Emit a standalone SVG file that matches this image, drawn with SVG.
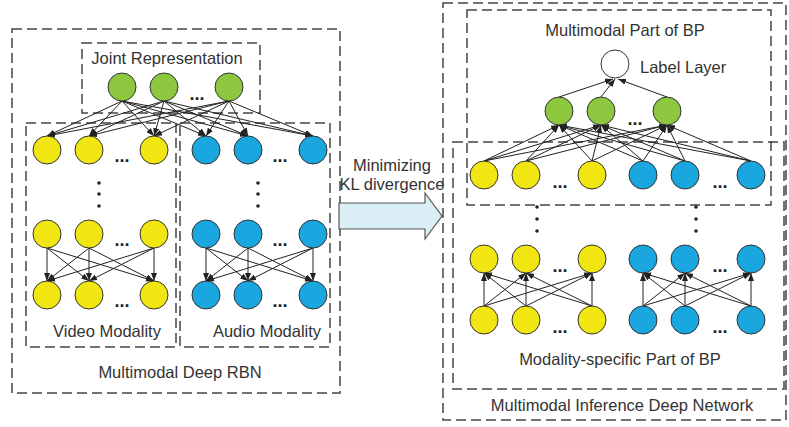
<svg xmlns="http://www.w3.org/2000/svg" width="789" height="427" viewBox="0 0 789 427">
<defs>
<marker id="ah" markerWidth="8" markerHeight="6" refX="8" refY="3" orient="auto" markerUnits="userSpaceOnUse">
<path d="M0,0 L8,3 L0,6 z" fill="#222"/>
</marker>
<style>
.box{fill:none;stroke:#444;stroke-width:1.5;stroke-dasharray:10,5}
.t{font-family:"Liberation Sans",Arial,sans-serif;font-size:16.5px;fill:#333;text-anchor:middle}
.el{font-family:"Liberation Sans",Arial,sans-serif;font-size:18px;font-weight:bold;fill:#222;text-anchor:middle}
.y{fill:#f1e512;stroke:#333;stroke-width:1}
.b{fill:#1aa7e0;stroke:#333;stroke-width:1}
.g{fill:#8dc63f;stroke:#333;stroke-width:1}
.w{fill:#fff;stroke:#333;stroke-width:1}
.c line{stroke:#222;stroke-width:1;marker-end:url(#ah)}
.d{fill:#222}
</style>
</defs>
<rect width="789" height="427" fill="#fff"/>

<!-- Left part boxes -->
<g id="left-outer"><rect class="box" x="12" y="29" width="328" height="364"/><text class="t" x="180" y="378">Multimodal Deep RBN</text></g>
<g id="joint-box"><rect class="box" x="82" y="43" width="178" height="70"/><text class="t" x="167" y="64">Joint Representation</text></g>
<g id="video-box"><rect class="box" x="26" y="123" width="150" height="224"/><text class="t" x="107" y="337">Video Modality</text></g>
<g id="audio-box"><rect class="box" x="180" y="123" width="150" height="224"/><text class="t" x="267" y="337">Audio Modality</text></g>

<!-- Left connectors -->
<g id="left-connectors" class="c">
<line x1="122" y1="101" x2="47" y2="136"/><line x1="122" y1="101" x2="89" y2="136"/><line x1="122" y1="101" x2="154" y2="136"/>
<line x1="122" y1="101" x2="206" y2="136"/><line x1="122" y1="101" x2="248" y2="136"/><line x1="122" y1="101" x2="313" y2="136"/>
<line x1="164" y1="101" x2="47" y2="136"/><line x1="164" y1="101" x2="89" y2="136"/><line x1="164" y1="101" x2="154" y2="136"/>
<line x1="164" y1="101" x2="206" y2="136"/><line x1="164" y1="101" x2="248" y2="136"/><line x1="164" y1="101" x2="313" y2="136"/>
<line x1="229" y1="101" x2="47" y2="136"/><line x1="229" y1="101" x2="89" y2="136"/><line x1="229" y1="101" x2="154" y2="136"/>
<line x1="229" y1="101" x2="206" y2="136"/><line x1="229" y1="101" x2="248" y2="136"/><line x1="229" y1="101" x2="313" y2="136"/>

<line x1="47" y1="248" x2="47" y2="281"/><line x1="47" y1="248" x2="89" y2="281"/><line x1="47" y1="248" x2="154" y2="281"/>
<line x1="89" y1="248" x2="47" y2="281"/><line x1="89" y1="248" x2="89" y2="281"/><line x1="89" y1="248" x2="154" y2="281"/>
<line x1="154" y1="248" x2="47" y2="281"/><line x1="154" y1="248" x2="89" y2="281"/><line x1="154" y1="248" x2="154" y2="281"/>

<line x1="206" y1="248" x2="206" y2="281"/><line x1="206" y1="248" x2="248" y2="281"/><line x1="206" y1="248" x2="313" y2="281"/>
<line x1="248" y1="248" x2="206" y2="281"/><line x1="248" y1="248" x2="248" y2="281"/><line x1="248" y1="248" x2="313" y2="281"/>
<line x1="313" y1="248" x2="206" y2="281"/><line x1="313" y1="248" x2="248" y2="281"/><line x1="313" y1="248" x2="313" y2="281"/>
</g>

<!-- Left nodes -->
<g id="left-joint"><circle class="g" cx="122" cy="87" r="14"/><circle class="g" cx="164" cy="87" r="14"/><circle class="g" cx="229" cy="87" r="14"/><text class="el" x="197" y="100">...</text></g>
<g id="left-video-top"><circle class="y" cx="47" cy="150" r="14"/><circle class="y" cx="89" cy="150" r="14"/><circle class="y" cx="154" cy="150" r="14"/><text class="el" x="122" y="162">...</text></g>
<g id="left-audio-top"><circle class="b" cx="206" cy="150" r="14"/><circle class="b" cx="248" cy="150" r="14"/><circle class="b" cx="313" cy="150" r="14"/><text class="el" x="280" y="162">...</text></g>
<g id="left-vdots"><circle class="d" cx="99" cy="183" r="1.8"/><circle class="d" cx="99" cy="194" r="1.8"/><circle class="d" cx="99" cy="206" r="1.8"/><circle class="d" cx="258" cy="183" r="1.8"/><circle class="d" cx="258" cy="194" r="1.8"/><circle class="d" cx="258" cy="206" r="1.8"/></g>
<g id="left-video-mid"><circle class="y" cx="47" cy="234" r="14"/><circle class="y" cx="89" cy="234" r="14"/><circle class="y" cx="154" cy="234" r="14"/><text class="el" x="122" y="246">...</text></g>
<g id="left-audio-mid"><circle class="b" cx="206" cy="234" r="14"/><circle class="b" cx="248" cy="234" r="14"/><circle class="b" cx="313" cy="234" r="14"/><text class="el" x="280" y="246">...</text></g>
<g id="left-video-bot"><circle class="y" cx="47" cy="295" r="14"/><circle class="y" cx="89" cy="295" r="14"/><circle class="y" cx="154" cy="295" r="14"/><text class="el" x="122" y="307">...</text></g>
<g id="left-audio-bot"><circle class="b" cx="206" cy="295" r="14"/><circle class="b" cx="248" cy="295" r="14"/><circle class="b" cx="313" cy="295" r="14"/><text class="el" x="280" y="307">...</text></g>

<!-- Middle block arrow -->
<g id="kl-arrow">
<path d="M339,203 L425,203 L425,193 L442,216 L425,239 L425,229 L339,229 Z" fill="#d9eef5" stroke="#555" stroke-width="1.2"/>
<text class="t" x="392" y="171">Minimizing</text>
<text class="t" x="392" y="190">KL divergence</text>
</g>

<!-- Right part boxes -->
<g id="right-outer"><rect class="box" x="443" y="3" width="343" height="417"/><text class="t" x="622" y="411">Multimodal Inference Deep Network</text></g>
<g id="mm-box"><rect class="box" x="467" y="10" width="304" height="195"/><text class="t" x="625" y="36">Multimodal Part of BP</text></g>
<g id="ms-box"><rect class="box" x="453" y="142" width="331" height="247"/><text class="t" x="620" y="365">Modality-specific Part of BP</text></g>

<!-- Right connectors -->
<g id="right-connectors" class="c">
<line x1="559" y1="97" x2="613" y2="79"/><line x1="601" y1="97" x2="615" y2="79"/><line x1="667" y1="97" x2="618" y2="79"/>

<line x1="484" y1="161" x2="559" y2="125"/><line x1="484" y1="161" x2="601" y2="125"/><line x1="484" y1="161" x2="667" y2="125"/>
<line x1="526" y1="161" x2="559" y2="125"/><line x1="526" y1="161" x2="601" y2="125"/><line x1="526" y1="161" x2="667" y2="125"/>
<line x1="592" y1="161" x2="559" y2="125"/><line x1="592" y1="161" x2="601" y2="125"/><line x1="592" y1="161" x2="667" y2="125"/>
<line x1="643" y1="161" x2="559" y2="125"/><line x1="643" y1="161" x2="601" y2="125"/><line x1="643" y1="161" x2="667" y2="125"/>
<line x1="685" y1="161" x2="559" y2="125"/><line x1="685" y1="161" x2="601" y2="125"/><line x1="685" y1="161" x2="667" y2="125"/>
<line x1="751" y1="161" x2="559" y2="125"/><line x1="751" y1="161" x2="601" y2="125"/><line x1="751" y1="161" x2="667" y2="125"/>

<line x1="484" y1="306" x2="484" y2="273"/><line x1="484" y1="306" x2="526" y2="273"/><line x1="484" y1="306" x2="592" y2="273"/>
<line x1="526" y1="306" x2="484" y2="273"/><line x1="526" y1="306" x2="526" y2="273"/><line x1="526" y1="306" x2="592" y2="273"/>
<line x1="592" y1="306" x2="484" y2="273"/><line x1="592" y1="306" x2="526" y2="273"/><line x1="592" y1="306" x2="592" y2="273"/>

<line x1="643" y1="306" x2="643" y2="273"/><line x1="643" y1="306" x2="685" y2="273"/><line x1="643" y1="306" x2="751" y2="273"/>
<line x1="685" y1="306" x2="643" y2="273"/><line x1="685" y1="306" x2="685" y2="273"/><line x1="685" y1="306" x2="751" y2="273"/>
<line x1="751" y1="306" x2="643" y2="273"/><line x1="751" y1="306" x2="685" y2="273"/><line x1="751" y1="306" x2="751" y2="273"/>
</g>

<!-- Right nodes -->
<g id="label-layer"><circle class="w" cx="615" cy="64" r="14"/><text class="t" x="640" y="73" style="text-anchor:start">Label Layer</text></g>
<g id="right-joint"><circle class="g" cx="559" cy="111" r="14"/><circle class="g" cx="601" cy="111" r="14"/><circle class="g" cx="667" cy="111" r="14"/><text class="el" x="635" y="125">...</text></g>
<g id="right-video-top"><circle class="y" cx="484" cy="175" r="14"/><circle class="y" cx="526" cy="175" r="14"/><circle class="y" cx="592" cy="175" r="14"/><text class="el" x="560" y="188">...</text></g>
<g id="right-audio-top"><circle class="b" cx="643" cy="175" r="14"/><circle class="b" cx="685" cy="175" r="14"/><circle class="b" cx="751" cy="175" r="14"/><text class="el" x="720" y="188">...</text></g>
<g id="right-vdots"><circle class="d" cx="537" cy="207" r="1.8"/><circle class="d" cx="537" cy="219" r="1.8"/><circle class="d" cx="537" cy="231" r="1.8"/><circle class="d" cx="696" cy="207" r="1.8"/><circle class="d" cx="696" cy="219" r="1.8"/><circle class="d" cx="696" cy="231" r="1.8"/></g>
<g id="right-video-mid"><circle class="y" cx="484" cy="259" r="14"/><circle class="y" cx="526" cy="259" r="14"/><circle class="y" cx="592" cy="259" r="14"/><text class="el" x="560" y="272">...</text></g>
<g id="right-audio-mid"><circle class="b" cx="643" cy="259" r="14"/><circle class="b" cx="685" cy="259" r="14"/><circle class="b" cx="751" cy="259" r="14"/><text class="el" x="720" y="272">...</text></g>
<g id="right-video-bot"><circle class="y" cx="484" cy="320" r="14"/><circle class="y" cx="526" cy="320" r="14"/><circle class="y" cx="592" cy="320" r="14"/><text class="el" x="560" y="333">...</text></g>
<g id="right-audio-bot"><circle class="b" cx="643" cy="320" r="14"/><circle class="b" cx="685" cy="320" r="14"/><circle class="b" cx="751" cy="320" r="14"/><text class="el" x="720" y="333">...</text></g>
</svg>
